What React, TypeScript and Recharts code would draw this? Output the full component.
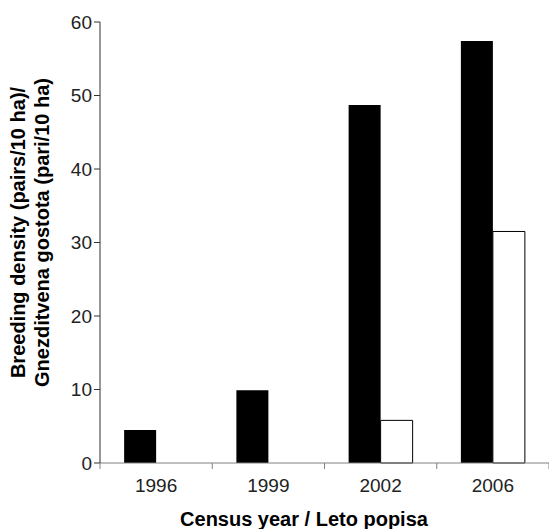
import React from "react";
import { BarChart, Bar, XAxis, YAxis, Label } from "recharts";

const years = ["1996", "1999", "2002", "2006"];
const blackSeries = [4.5, 9.9, 48.7, 57.4];
const whiteSeries: (number | null)[] = [null, null, 5.8, 31.5];
const yTicks = [0, 10, 20, 30, 40, 50, 60];

const data = years.map((y, i) => ({ year: y, a: blackSeries[i], b: whiteSeries[i] }));

const FONT = "'Liberation Sans', Arial, sans-serif";

const XTick = (props: any) => {
  const { x, y, payload } = props;
  const off = payload?.offset ?? 0;
  const isLast = payload?.index === years.length - 1;
  return (
    <g>
      <line x1={x - off} x2={x - off} y1={y} y2={y + 6} stroke="#808080" strokeWidth={1} />
      {isLast && <line x1={x + off} x2={x + off} y1={y} y2={y + 6} stroke="#808080" strokeWidth={1} />}
      <text x={x} y={y + 29} textAnchor="middle" fontFamily={FONT} fontSize={19} fill="#222">
        {payload.value}
      </text>
    </g>
  );
};

const YLabel = (props: any) => {
  const vb = props.viewBox || {};
  const cy = vb.y + vb.height / 2 - 10;
  return (
    <g fontFamily={FONT} fontSize={20} fontWeight="bold" fill="#000">
      <text x={25} y={cy} textAnchor="middle" transform={`rotate(-90, 25, ${cy})`}>
        Breeding density (pairs/10 ha)/
      </text>
      <text x={49} y={cy} textAnchor="middle" transform={`rotate(-90, 49, ${cy})`}>
        Gnezditvena gostota (pari/10 ha)
      </text>
    </g>
  );
};

const XLabel = (props: any) => {
  const vb = props.viewBox || {};
  return (
    <text x={304} y={vb.y + 63} textAnchor="middle" fontFamily={FONT} fontSize={20} fontWeight="bold" fill="#000">
      Census year / Leto popisa
    </text>
  );
};

export default function App() {
  return (
    <div style={{ position: "absolute", left: 0, top: 0, width: 549, height: 529, background: "#fff" }}>
      <BarChart
        width={549}
        height={529}
        data={data}
        margin={{ top: 22, right: 0, bottom: 0, left: 0 }}
        barCategoryGap="21.5%"
        barGap={0}
      >
        <XAxis
          dataKey="year"
          height={66}
          axisLine={{ stroke: "#808080", strokeWidth: 1 }}
          tickLine={false}
          tickSize={0}
          tickMargin={0}
          tick={<XTick />}
          interval={0}
        >
          <Label content={<XLabel />} />
        </XAxis>
        <YAxis
          width={100}
          domain={[0, 60]}
          ticks={yTicks}
          interval={0}
          axisLine={{ stroke: "#333", strokeWidth: 1 }}
          tickLine={{ stroke: "#333", strokeWidth: 1 }}
          tickSize={6}
          tickMargin={2}
          tick={{ fontFamily: FONT, fontSize: 19, fill: "#222" }}
        >
          <Label content={<YLabel />} />
        </YAxis>
        <Bar dataKey="a" fill="#000" isAnimationActive={false} />
        <Bar dataKey="b" fill="#fff" stroke="#000" strokeWidth={1} isAnimationActive={false} />
      </BarChart>
    </div>
  );
}
